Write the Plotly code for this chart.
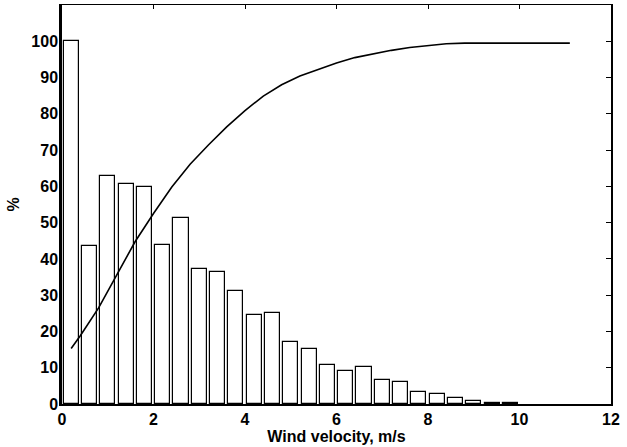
import plotly.graph_objects as go

# Histogram of wind velocity (bin centres, m/s) and relative frequency (%)
bin_centers = [0.2, 0.6, 1.0, 1.4, 1.8, 2.2, 2.6, 3.0, 3.4, 3.8, 4.2, 4.6, 5.0,
               5.4, 5.8, 6.2, 6.6, 7.0, 7.4, 7.8, 8.2, 8.6, 9.0, 9.4, 9.8]
bar_values = [100, 43.5, 62.8, 60.6, 59.7, 43.9, 51.2, 37.3, 36.5, 31.1, 24.4,
              25.2, 17.1, 15.2, 10.8, 9.0, 10.1, 6.6, 6.1, 3.2, 2.8, 1.6, 0.75,
              0.3, 0.2]

# Cumulative distribution curve (%)
cum_x = [0.2, 0.4, 0.8, 1.2, 1.6, 2.0, 2.4, 2.8, 3.2, 3.6, 4.0, 4.4, 4.8, 5.2,
         5.6, 6.0, 6.4, 6.8, 7.2, 7.6, 8.0, 8.4, 8.8, 11.1]
cum_y = [15.3, 18.8, 26.5, 35.8, 44.8, 52.5, 59.8, 66.1, 71.4, 76.4, 80.9, 84.9,
         88.0, 90.4, 92.3, 94.0, 95.5, 96.6, 97.5, 98.3, 98.9, 99.3, 99.5, 99.5]

x_ticks = [0, 2, 4, 6, 8, 10, 12]
y_ticks = [0, 10, 20, 30, 40, 50, 60, 70, 80, 90, 100]

FONT = "Liberation Sans, Arial, Helvetica, sans-serif"

fig = go.Figure()
fig.add_trace(go.Bar(
    x=bin_centers, y=bar_values, width=0.33,
    marker=dict(color="white", line=dict(color="black", width=1.2)),
    hoverinfo="skip", showlegend=False,
))
fig.add_trace(go.Scatter(
    x=cum_x, y=cum_y, mode="lines", xaxis="x2", yaxis="y2",
    line=dict(color="black", width=1.6),
    hoverinfo="skip", showlegend=False,
))

tickfont = dict(family=FONT, size=16, color="black", weight="bold")

fig.update_layout(
    width=627, height=447,
    margin=dict(l=62, r=16, t=5, b=43),
    paper_bgcolor="white", plot_bgcolor="white",
    font=dict(family=FONT, color="black"),
    bargap=0,
    xaxis=dict(
        range=[0, 12], tickvals=x_ticks, ticks="", showgrid=False, zeroline=False,
        showline=True, linecolor="black", linewidth=2,
        tickfont=tickfont, ticklabelstandoff=0,
        title=dict(text="Wind velocity, m/s", standoff=0,
                   font=dict(family=FONT, size=16, color="black", weight="bold")),
    ),
    yaxis=dict(
        range=[0, 110], tickvals=y_ticks, ticks="", showgrid=False, zeroline=False,
        showline=True, linecolor="black", linewidth=2.5,
        tickfont=tickfont, ticklabelstandoff=-2,
        title=dict(text="%", standoff=8,
                   font=dict(family=FONT, size=16, color="black", weight="bold")),
    ),
    xaxis2=dict(
        range=[0, 12], tickvals=x_ticks, overlaying="x", side="top",
        ticks="inside", ticklen=4, tickwidth=1, tickcolor="black",
        showticklabels=False, showgrid=False, zeroline=False,
        showline=True, linecolor="black", linewidth=1.2,
    ),
    yaxis2=dict(
        range=[0, 110], tickvals=y_ticks, overlaying="y", side="right",
        ticks="inside", ticklen=5, tickwidth=1, tickcolor="black",
        showticklabels=False, showgrid=False, zeroline=False,
        showline=True, linecolor="black", linewidth=1.5,
    ),
)

fig.write_html("out.html")
